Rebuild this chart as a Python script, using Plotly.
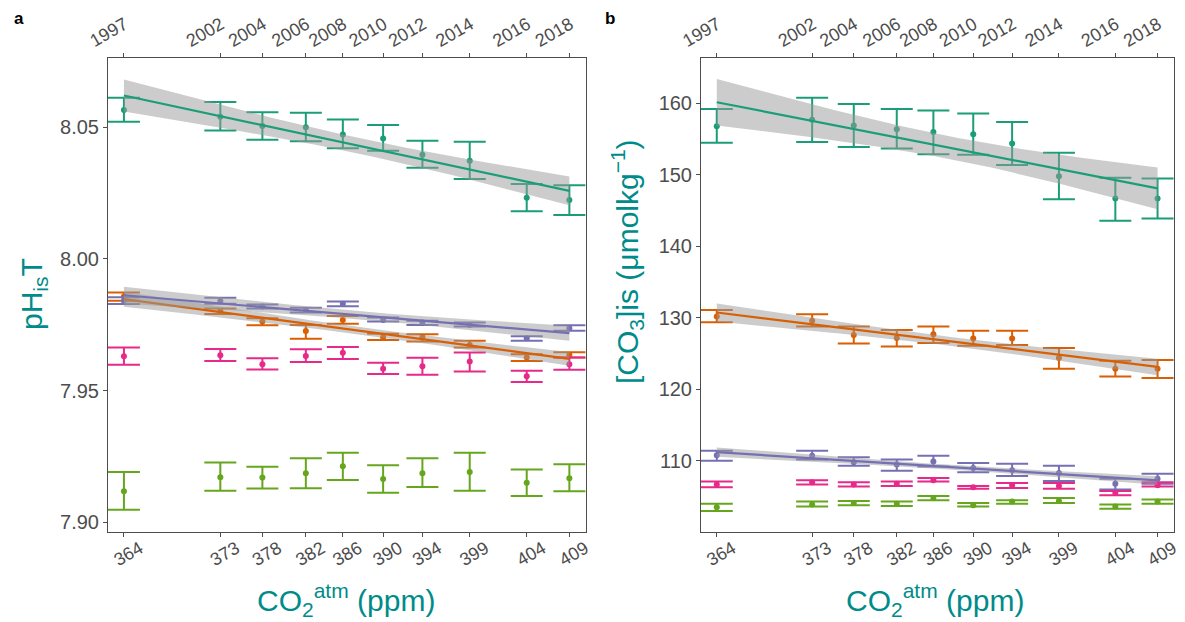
import numpy as np
import plotly.graph_objects as go

# ---------------- data ----------------
co2 = [363.71, 373.45, 377.70, 382.09, 385.83, 389.90, 393.87, 398.65, 404.41, 408.72]
co2_labels = ["364", "373", "378", "382", "386", "390", "394", "399", "404", "409"]
years = ["1997", "2002", "2004", "2006", "2008", "2010", "2012", "2014", "2016", "2018"]

colors = {"g1": "#1B9E77", "g2": "#D95F02", "g3": "#7570B3", "g4": "#E7298A", "g5": "#66A61E"}
fitted = ["g1", "g2", "g3"]

# panel a: pH
ph_g1 = [8.0565, 8.0539, 8.0504, 8.0499, 8.0472, 8.0456, 8.0395, 8.0372, 8.0232, 8.0223]
ph_g1_hi = [8.0611, 8.0595, 8.0556, 8.0554, 8.0529, 8.0508, 8.0448, 8.0444, 8.0284, 8.0279]
ph_g1_lo = [8.0520, 8.0487, 8.0452, 8.0446, 8.0419, 8.0410, 8.0345, 8.0303, 8.0180, 8.0166]

ph_g2 = [7.9857, 7.9802, 7.9762, 7.9726, 7.9768, 7.9702, 7.9702, 7.9673, 7.9625, 7.9635]
ph_g2_hi = [7.9872, 7.9811, 7.9774, 7.9749, 7.9783, 7.9715, 7.9714, 7.9689, 7.9638, 7.9645]
ph_g2_lo = [7.9841, 7.9790, 7.9748, 7.9696, 7.9753, 7.9692, 7.9686, 7.9663, 7.9612, 7.9625]

ph_g3 = [7.9841, 7.9840, 7.9819, 7.9806, 7.9829, 7.9768, 7.9758, 7.9749, 7.9698, 7.9736]
ph_g3_hi = [7.9854, 7.9852, 7.9826, 7.9814, 7.9838, 7.9777, 7.9765, 7.9758, 7.9706, 7.9748]
ph_g3_lo = [7.9828, 7.9829, 7.9811, 7.9796, 7.9820, 7.9762, 7.9749, 7.9743, 7.9689, 7.9727]

ph_g4 = [7.9630, 7.9634, 7.9600, 7.9631, 7.9643, 7.9583, 7.9592, 7.9610, 7.9554, 7.9600]
ph_g4_hi = [7.9663, 7.9658, 7.9622, 7.9657, 7.9665, 7.9605, 7.9624, 7.9644, 7.9575, 7.9625]
ph_g4_lo = [7.9598, 7.9612, 7.9580, 7.9608, 7.9620, 7.9563, 7.9560, 7.9572, 7.9532, 7.9579]

ph_g5 = [7.9118, 7.9171, 7.9170, 7.9186, 7.9213, 7.9164, 7.9186, 7.9191, 7.9150, 7.9167]
ph_g5_hi = [7.9191, 7.9227, 7.9211, 7.9243, 7.9264, 7.9216, 7.9243, 7.9264, 7.9200, 7.9220]
ph_g5_lo = [7.9047, 7.9120, 7.9128, 7.9129, 7.9160, 7.9112, 7.9134, 7.9120, 7.9100, 7.9118]

# panel b: carbonate ion
co3_g1 = [156.8, 157.7, 156.9, 156.4, 156.0, 155.7, 154.4, 149.8, 146.7, 146.7]
co3_g1_hi = [159.2, 160.8, 159.9, 159.2, 159.0, 158.6, 157.4, 153.1, 149.6, 149.5]
co3_g1_lo = [154.5, 154.6, 153.9, 153.7, 152.9, 152.8, 151.4, 146.6, 143.6, 143.9]

co3_g2 = [130.2, 129.6, 127.6, 127.2, 127.7, 127.1, 127.1, 124.4, 122.9, 122.9]
co3_g2_hi = [131.1, 130.5, 128.8, 128.3, 128.8, 128.2, 128.2, 125.8, 124.0, 124.1]
co3_g2_lo = [129.4, 128.8, 126.4, 126.0, 126.5, 126.1, 126.2, 122.9, 121.8, 121.6]

co3_g3 = [110.8, 110.7, 109.8, 109.5, 109.9, 109.0, 108.7, 108.3, 106.8, 107.5]
co3_g3_hi = [111.4, 111.4, 110.5, 110.2, 110.7, 109.7, 109.6, 109.3, 107.5, 108.2]
co3_g3_lo = [110.0, 110.2, 109.3, 108.6, 109.2, 108.4, 107.9, 107.2, 106.0, 106.8]

co3_g4 = [106.7, 107.0, 106.7, 106.8, 107.3, 106.3, 106.6, 106.5, 105.5, 106.6]
co3_g4_hi = [107.1, 107.3, 107.0, 107.1, 107.6, 106.5, 106.9, 106.9, 105.8, 107.0]
co3_g4_lo = [106.3, 106.7, 106.4, 106.5, 107.1, 106.1, 106.2, 106.1, 105.2, 106.4]

co3_g5 = [103.5, 103.9, 104.1, 104.0, 104.8, 103.8, 104.3, 104.4, 103.6, 104.3]
co3_g5_hi = [104.0, 104.3, 104.4, 104.3, 105.1, 104.1, 104.5, 104.8, 103.9, 104.6]
co3_g5_lo = [103.0, 103.6, 103.8, 103.7, 104.5, 103.6, 104.0, 104.1, 103.3, 104.0]

panel_a = {
    "g1": (ph_g1, ph_g1_lo, ph_g1_hi), "g2": (ph_g2, ph_g2_lo, ph_g2_hi),
    "g3": (ph_g3, ph_g3_lo, ph_g3_hi), "g4": (ph_g4, ph_g4_lo, ph_g4_hi),
    "g5": (ph_g5, ph_g5_lo, ph_g5_hi),
}
panel_b = {
    "g1": (co3_g1, co3_g1_lo, co3_g1_hi), "g2": (co3_g2, co3_g2_lo, co3_g2_hi),
    "g3": (co3_g3, co3_g3_lo, co3_g3_hi), "g4": (co3_g4, co3_g4_lo, co3_g4_hi),
    "g5": (co3_g5, co3_g5_lo, co3_g5_hi),
}

# ---------------- helpers ----------------
T_975_DF8 = 2.306


def lm_band(x, y, n=80):
    x = np.asarray(x, float)
    y = np.asarray(y, float)
    b, a = np.polyfit(x, y, 1)
    res = y - (a + b * x)
    s = np.sqrt(np.sum(res ** 2) / (len(x) - 2))
    sxx = np.sum((x - x.mean()) ** 2)
    xs = np.linspace(x.min(), x.max(), n)
    fit = a + b * xs
    se = s * np.sqrt(1.0 / len(x) + (xs - x.mean()) ** 2 / sxx)
    return xs, fit, fit - T_975_DF8 * se, fit + T_975_DF8 * se


# page has an 8px body margin: figure is placed at (8, 8)
W, H, OFF = 1177, 614, 8


def px(X):
    return (X - OFF) / W


def py(Y):
    return 1 - (Y - OFF) / H


fig = go.Figure()
GREY = "#4D4D4D"
FONT = "Liberation Sans, Arial, sans-serif"


def add_panel(data, xa, ya):
    for key, (m, lo, hi) in data.items():
        c = colors[key]
        fig.add_trace(go.Scatter(
            x=co2, y=m, mode="markers", xaxis=xa, yaxis=ya, showlegend=False,
            marker=dict(color=c, size=6),
            error_y=dict(type="data", symmetric=False,
                         array=[h - v for h, v in zip(hi, m)],
                         arrayminus=[v - l for v, l in zip(m, lo)],
                         color=c, thickness=2, width=16),
        ))
    for key in fitted:
        m = data[key][0]
        xs, fit, lo, hi = lm_band(co2, m)
        fig.add_trace(go.Scatter(
            x=list(xs) + list(xs[::-1]), y=list(hi) + list(lo[::-1]),
            fill="toself", fillcolor="rgba(153,153,153,0.5)", line=dict(width=0),
            mode="lines", xaxis=xa, yaxis=ya, showlegend=False, hoverinfo="skip",
        ))
        fig.add_trace(go.Scatter(
            x=xs, y=fit, mode="lines", line=dict(color=colors[key], width=2.2),
            xaxis=xa, yaxis=ya, showlegend=False,
        ))


add_panel(panel_a, "x", "y")
add_panel(panel_b, "x2", "y2")

# invisible traces so the top (year) axes are drawn
fig.add_trace(go.Scatter(x=co2, y=ph_g1, xaxis="x3", yaxis="y", mode="markers",
                         marker=dict(opacity=0), showlegend=False, hoverinfo="skip"))
fig.add_trace(go.Scatter(x=co2, y=co3_g1, xaxis="x4", yaxis="y2", mode="markers",
                         marker=dict(opacity=0), showlegend=False, hoverinfo="skip"))

XR = [362.1, 410.4]
dom_a = [px(108), px(586)]
dom_b = [px(701), px(1174)]
dom_y = [py(532), py(58)]

xcommon = dict(range=XR, tickvals=co2, tickangle=-30, showgrid=False, zeroline=False,
               automargin=False,
               showline=True, linecolor=GREY, linewidth=1, ticks="outside", ticklen=4,
               tickcolor=GREY, tickfont=dict(size=18, color=GREY, family=FONT))
ycommon = dict(showgrid=False, zeroline=False, showline=True, linecolor=GREY, linewidth=1,
               automargin=False,
               mirror=True, ticks="outside", ticklen=4, tickcolor=GREY,
               tickfont=dict(size=20, color=GREY, family=FONT))
bottom = dict(ticktext=co2_labels, ticklabelshift=16, ticklabelstandoff=-6)
top = dict(ticktext=years, ticklabelshift=-34, ticklabelstandoff=-3)

fig.update_layout(
    width=W, height=H, margin=dict(l=0, r=0, t=0, b=0, autoexpand=False),
    paper_bgcolor="white", plot_bgcolor="white",
    font=dict(family=FONT),
    xaxis=dict(domain=dom_a, anchor="y", **bottom, **xcommon),
    xaxis2=dict(domain=dom_b, anchor="y2", **bottom, **xcommon),
    xaxis3=dict(overlaying="x", side="top", anchor="y", **top, **xcommon),
    xaxis4=dict(overlaying="x2", side="top", anchor="y2", **top, **xcommon),
    yaxis=dict(domain=dom_y, anchor="x", range=[7.8963, 8.0762],
               tickvals=[7.90, 7.95, 8.00, 8.05], ticktext=["7.90", "7.95", "8.00", "8.05"],
               **ycommon),
    yaxis2=dict(domain=dom_y, anchor="x2", range=[100.05, 166.35],
                tickvals=[110, 120, 130, 140, 150, 160], **ycommon),
)

TEAL = "#008B8B"
for text, X, Y in [("<b>a</b>", 12, 18), ("<b>b</b>", 603, 18)]:
    fig.add_annotation(text=text, x=px(X), y=py(Y), xref="paper", yref="paper",
                       showarrow=False, font=dict(size=17, color="black", family=FONT),
                       xanchor="left", yanchor="middle")

fig.add_annotation(text="pH<sub>is</sub>T", x=px(33), y=py(294), xref="paper", yref="paper",
                   xanchor="center", yanchor="middle",
                   showarrow=False, textangle=-90, font=dict(size=30, color=TEAL, family=FONT))
fig.add_annotation(text="[CO<sub>3</sub>]is (μmolkg<sup>−1</sup>)", x=px(627), y=py(262),
                   xref="paper", yref="paper", xanchor="center", yanchor="middle",
                   showarrow=False, textangle=-90,
                   font=dict(size=30, color=TEAL, family=FONT))
for X in (346, 935):
    fig.add_annotation(text="CO<sub>2</sub><sup>atm</sup> (ppm)", x=px(X), y=py(600),
                       xref="paper", yref="paper", xanchor="center", yanchor="middle",
                       showarrow=False,
                       font=dict(size=30, color=TEAL, family=FONT))

fig.write_html("out.html")
